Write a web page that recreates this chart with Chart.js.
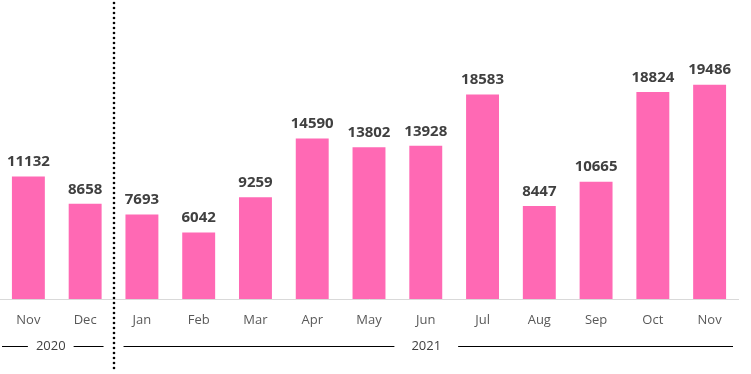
<!DOCTYPE html>
<html>
<head>
<meta charset="utf-8">
<script src="https://cdn.jsdelivr.net/npm/chart.js@4"></script>
<style>
  html, body { margin: 0; padding: 0; background: #fff; }
  #wrap { width: 751px; height: 374px; position: relative; }
</style>
</head>
<body>
<div id="wrap"><canvas id="chart"></canvas></div>
<script>
// data
const months = ["Nov", "Dec", "Jan", "Feb", "Mar", "Apr", "May", "Jun", "Jul", "Aug", "Sep", "Oct", "Nov"];
const values = [11132, 8658, 7693, 6042, 9259, 14590, 13802, 13928, 18583, 8447, 10665, 18824, 19486];
const years = ["2020", "2021"];
const yearStart = [0, 2];   // first month index of each year
const yearEnd = [1, 12];    // last month index

const pink = "#FF69B4";

// value labels above each bar
const valueLabels = {
  id: 'valueLabels',
  afterDatasetsDraw(chart) {
    const ctx = chart.ctx;
    const meta = chart.getDatasetMeta(0);
    ctx.save();
    ctx.font = "bold 15px 'Open Sans'";
    ctx.fillStyle = "#404040";
    ctx.textAlign = "center";
    ctx.textBaseline = "bottom";
    meta.data.forEach((bar, i) => {
      ctx.fillText(values[i], bar.x, bar.y - 7);
    });
    ctx.restore();
  }
};

// year row + dotted divider
const yearRow = {
  id: 'yearRow',
  afterDraw(chart) {
    const ctx = chart.ctx;
    const x = chart.scales.x;
    const half = (x.getPixelForValue(1) - x.getPixelForValue(0)) / 2;
    const y = 346;
    const gaps = [8, 17];
    ctx.save();
    ctx.font = "13px 'Open Sans'";
    ctx.fillStyle = "#404040";
    ctx.textAlign = "center";
    ctx.textBaseline = "middle";
    ctx.strokeStyle = "#000";
    ctx.lineWidth = 1;
    for (let k = 0; k < years.length; k++) {
      const left = x.getPixelForValue(yearStart[k]) - half + (k ? 10 : 2);
      const right = x.getPixelForValue(yearEnd[k]) + half - (k ? 5 : 10);
      const mid = (left + right) / 2 - 2;
      const w = ctx.measureText(years[k]).width / 2 + gaps[k];
      ctx.beginPath();
      ctx.moveTo(left, y + 0.5);
      ctx.lineTo(mid - w, y + 0.5);
      ctx.moveTo(mid + w, y + 0.5);
      ctx.lineTo(right, y + 0.5);
      ctx.stroke();
      ctx.fillText(years[k], mid, y);
    }
    // dotted line between the years
    const dx = Math.round(x.getPixelForValue(yearStart[1]) - half);
    ctx.fillStyle = "#000";
    for (let yy = 3; yy < 372; yy += 5) {
      ctx.beginPath();
      ctx.arc(dx, yy, 1.3, 0, Math.PI * 2);
      ctx.fill();
    }
    ctx.restore();
  }
};

new Chart(document.getElementById('chart'), {
  type: 'bar',
  data: {
    labels: months,
    datasets: [{
      data: values,
      backgroundColor: pink,
      borderWidth: 0,
      categoryPercentage: 1,
      barPercentage: 0.58
    }]
  },
  options: {
    responsive: true,
    maintainAspectRatio: false,
    animation: false,
    layout: { padding: { top: 24, left: 0, right: 13, bottom: 0 } },
    plugins: {
      legend: { display: false },
      tooltip: { enabled: false }
    },
    scales: {
      x: {
        grid: { display: false, drawTicks: false },
        border: { display: true, color: "#d9d9d9", width: 1 },
        ticks: {
          color: "#595959",
          font: { family: "'Open Sans'", size: 13 },
          padding: 13,
          maxRotation: 0,
          autoSkip: false
        },
        afterFit(axis) { axis.height = 75; }
      },
      y: {
        display: false,
        min: 0,
        max: 25000
      }
    }
  },
  plugins: [valueLabels, yearRow]
});
</script>
</body>
</html>
